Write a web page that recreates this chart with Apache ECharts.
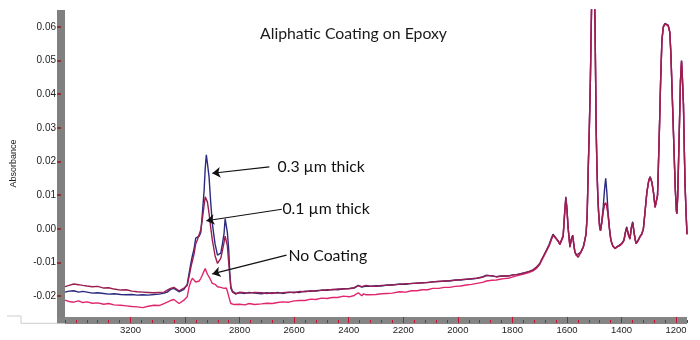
<!DOCTYPE html>
<html><head><meta charset="utf-8">
<script src="https://cdn.jsdelivr.net/npm/echarts@6/dist/echarts.min.js"></script>
<style>html,body{margin:0;padding:0;background:#fff}#chart{width:700px;height:340px}</style>
</head><body><div id="chart"></div>
<script>
const titleText = 'Aliphatic Coating on Epoxy';
const seriesNames = ['0.3 µm thick', '0.1 µm thick', 'No Coating'];

const wavenumber = [
  3440,3425,3408,3390,3375,3359,3340,3320,3298,3280,3260,3236,3215,3195,3175,3155,3135,3114,3095,3077,3065,3053,3041,3034,3022,3016,
  3004,2992,2985,2978,2973,2967,2961,2955,2948,2942,2937,2930,2926,2922,2918,2912,2906,2900,2890,2881,2875,2869,2863,2857,2853,2849,2845,2840,2836,2832,2826,2820,2814,
  2800,2780,2765,2745,2720,2700,2680,2660,2643,2620,
  2600,2580,2560,2540,2520,2500,2480,2460,2440,2420,
  2398,2380,2365,2359,2352,2345,2336,2324,2300,2280,
  2260,2240,2214,2190,2170,2150,2130,2110,2092,2070,
  2050,2030,2010,1990,1969,1950,1930,1910,1895,1889,
  1875,1859,1846,1830,1810,1798,1785,1770,1755,1740,
  1724,1710,1700,
  1693,1685,1675,1665,1657,1651,1644,1638,1632,1626,
  1620,1614,1608,1604,1600,1596,1589,1584,1579,1575,
  1571,1565,1559,1550,1540,1535,1530,1526,1522,1518,
  1514,1511,1508,1500,1497,1495,1493,1490,1487,1484,
  1480,1477,1472,1467,1462,1458,1454,1449,1444,1439,
  1432,1424,1415,1406,1398,1391,1386,1381,1375,1369,
  1364,1359,1353,1347,1340,1332,1326,1320,1314,1307,
  1300,1295,1289,1283,1277,1272,1268,1265,1261,1257,
  1252,1247,1241,1235,1229,1223,1219,1215,1211,1207,
  1203,1199,1197,1194,1191,1188,1184,1180,1177,1173,
  1170,1167,1163,1160
];

const thick03 = [
  -0.0188,-0.0185,-0.0184,-0.0188,-0.0186,-0.0188,-0.0191,-0.0190,-0.0192,-0.0194,-0.0193,-0.0195,-0.0196,-0.0195,-0.0197,-0.0196,-0.0197,-0.0195,-0.0194,-0.0191,-0.0188,-0.0180,-0.0177,-0.0180,-0.0187,-0.0188,
  -0.0180,-0.0165,-0.0132,-0.0100,-0.0080,-0.0060,-0.0028,-0.0024,-0.0022,-0.0010,0.0040,0.0115,0.0180,0.0220,0.0195,0.0155,0.0080,0.0016,-0.0045,-0.0078,-0.0077,-0.0072,-0.0045,-0.0014,0.0030,0.0035,-0.0010,-0.0060,-0.0130,-0.0172,-0.0186,-0.0190,-0.0192,
  -0.0190,-0.0192,-0.0189,-0.0191,-0.0193,-0.0190,-0.0192,-0.0189,-0.0192,-0.0189,
  -0.0188,-0.0189,-0.0185,-0.0186,-0.0184,-0.0182,-0.0183,-0.0180,-0.0181,-0.0178,
  -0.0177,-0.0176,-0.0168,-0.0165,-0.0173,-0.0168,-0.0170,-0.0171,-0.0169,-0.0170,
  -0.0167,-0.0167,-0.0164,-0.0165,-0.0162,-0.0162,-0.0160,-0.0160,-0.0157,-0.0157,
  -0.0155,-0.0155,-0.0152,-0.0152,-0.0150,-0.0149,-0.0147,-0.0143,-0.0138,-0.0136,
  -0.0140,-0.0142,-0.0141,-0.0140,-0.0139,-0.0137,-0.0136,-0.0133,-0.0130,-0.0127,
  -0.0122,-0.0113,-0.0104,
  -0.0092,-0.0080,-0.0063,-0.0046,-0.0028,-0.0016,-0.0019,-0.0030,-0.0036,-0.0045,
  -0.0050,-0.0020,0.0056,0.0095,0.0060,0.0006,-0.0053,-0.0030,-0.0019,-0.0045,
  -0.0068,-0.0078,-0.0083,-0.0070,-0.0053,-0.0035,-0.0014,0.0040,0.0180,0.0300,
  0.0450,0.0600,0.0750,0.0750,0.0600,0.0450,0.0300,0.0180,0.0100,0.0050,
  0.0005,-0.0004,0.0025,0.0065,0.0120,0.0150,0.0110,0.0046,0.0000,-0.0033,
  -0.0050,-0.0058,-0.0052,-0.0048,-0.0042,-0.0033,-0.0010,0.0006,-0.0015,-0.0028,
  0.0005,0.0021,-0.0015,-0.0043,-0.0035,-0.0022,-0.0015,0.0000,0.0050,0.0110,
  0.0145,0.0155,0.0140,0.0110,0.0065,0.0068,0.0100,0.0184,0.0300,0.0430,
  0.0560,0.0600,0.0610,0.0612,0.0605,0.0585,0.0520,0.0420,0.0320,0.0220,
  0.0120,0.0055,0.0046,0.0100,0.0200,0.0300,0.0440,0.0500,0.0450,0.0370,
  0.0240,0.0130,0.0040,-0.0015
];

const thick01 = [
  -0.0172,-0.0168,-0.0164,-0.0166,-0.0168,-0.0170,-0.0172,-0.0171,-0.0176,-0.0175,-0.0179,-0.0182,-0.0181,-0.0185,-0.0187,-0.0188,-0.0189,-0.0190,-0.0189,-0.0188,-0.0182,-0.0177,-0.0174,-0.0176,-0.0184,-0.0183,
  -0.0176,-0.0168,-0.0141,-0.0112,-0.0095,-0.0075,-0.0045,-0.0033,-0.0028,-0.0002,0.0026,0.0070,0.0095,0.0100,0.0080,0.0046,0.0005,-0.0033,-0.0080,-0.0103,-0.0100,-0.0088,-0.0065,-0.0040,-0.0022,-0.0020,-0.0050,-0.0100,-0.0140,-0.0177,-0.0188,-0.0191,-0.0194,
  -0.0188,-0.0190,-0.0191,-0.0189,-0.0190,-0.0192,-0.0190,-0.0191,-0.0190,-0.0188,
  -0.0190,-0.0186,-0.0187,-0.0184,-0.0185,-0.0183,-0.0181,-0.0181,-0.0179,-0.0179,
  -0.0178,-0.0175,-0.0169,-0.0166,-0.0172,-0.0169,-0.0168,-0.0170,-0.0171,-0.0168,
  -0.0168,-0.0166,-0.0165,-0.0163,-0.0163,-0.0161,-0.0161,-0.0159,-0.0158,-0.0156,
  -0.0156,-0.0154,-0.0153,-0.0151,-0.0150,-0.0148,-0.0147,-0.0144,-0.0139,-0.0137,
  -0.0139,-0.0143,-0.0141,-0.0140,-0.0140,-0.0137,-0.0136,-0.0134,-0.0131,-0.0127,
  -0.0122,-0.0113,-0.0104,
  -0.0092,-0.0079,-0.0064,-0.0048,-0.0030,-0.0018,-0.0020,-0.0030,-0.0037,-0.0046,
  -0.0051,-0.0022,0.0052,0.0092,0.0058,0.0004,-0.0054,-0.0031,-0.0020,-0.0046,
  -0.0069,-0.0079,-0.0085,-0.0071,-0.0054,-0.0036,-0.0015,0.0039,0.0179,0.0299,
  0.0449,0.0600,0.0750,0.0750,0.0600,0.0450,0.0298,0.0178,0.0098,0.0048,
  0.0004,-0.0005,0.0020,0.0055,0.0075,0.0080,0.0070,0.0040,-0.0002,-0.0034,
  -0.0051,-0.0059,-0.0053,-0.0049,-0.0043,-0.0034,-0.0012,0.0003,-0.0017,-0.0030,
  0.0002,0.0018,-0.0017,-0.0044,-0.0036,-0.0023,-0.0016,-0.0001,0.0049,0.0109,
  0.0144,0.0154,0.0139,0.0109,0.0064,0.0067,0.0099,0.0183,0.0299,0.0429,
  0.0559,0.0599,0.0609,0.0611,0.0604,0.0584,0.0519,0.0419,0.0319,0.0219,
  0.0119,0.0054,0.0045,0.0099,0.0199,0.0299,0.0439,0.0499,0.0449,0.0369,
  0.0239,0.0129,0.0039,-0.0016
];

const noCoating = [
  -0.0212,-0.0216,-0.0218,-0.0214,-0.0219,-0.0217,-0.0221,-0.0220,-0.0224,-0.0222,-0.0226,-0.0227,-0.0229,-0.0231,-0.0232,-0.0234,-0.0230,-0.0227,-0.0228,-0.0222,-0.0218,-0.0213,-0.0210,-0.0212,-0.0222,-0.0221,
  -0.0212,-0.0202,-0.0172,-0.0155,-0.0147,-0.0150,-0.0158,-0.0162,-0.0155,-0.0147,-0.0138,-0.0125,-0.0118,-0.0120,-0.0135,-0.0143,-0.0152,-0.0162,-0.0165,-0.0172,-0.0170,-0.0174,-0.0176,-0.0177,-0.0175,-0.0176,-0.0185,-0.0200,-0.0212,-0.0222,-0.0226,-0.0225,-0.0227,
  -0.0224,-0.0226,-0.0222,-0.0225,-0.0223,-0.0221,-0.0222,-0.0219,-0.0217,-0.0218,
  -0.0214,-0.0213,-0.0213,-0.0209,-0.0210,-0.0206,-0.0207,-0.0204,-0.0204,-0.0200,
  -0.0202,-0.0198,-0.0190,-0.0187,-0.0199,-0.0193,-0.0196,-0.0196,-0.0195,-0.0193,
  -0.0192,-0.0191,-0.0187,-0.0188,-0.0184,-0.0184,-0.0181,-0.0181,-0.0177,-0.0177,
  -0.0174,-0.0174,-0.0171,-0.0170,-0.0167,-0.0165,-0.0162,-0.0159,-0.0155,-0.0154,
  -0.0153,-0.0152,-0.0150,-0.0148,-0.0146,-0.0143,-0.0140,-0.0137,-0.0134,-0.0130,
  -0.0125,-0.0116,-0.0106,
  -0.0095,-0.0082,-0.0066,-0.0050,-0.0032,-0.0019,-0.0022,-0.0032,-0.0038,-0.0047,
  -0.0052,-0.0024,0.0050,0.0090,0.0056,0.0003,-0.0055,-0.0032,-0.0021,-0.0047,
  -0.0070,-0.0080,-0.0084,-0.0072,-0.0055,-0.0037,-0.0016,0.0038,0.0178,0.0298,
  0.0448,0.0600,0.0750,0.0750,0.0600,0.0450,0.0297,0.0177,0.0097,0.0047,
  0.0003,-0.0006,0.0018,0.0052,0.0072,0.0078,0.0068,0.0038,-0.0003,-0.0035,
  -0.0052,-0.0058,-0.0054,-0.0050,-0.0044,-0.0035,-0.0013,0.0002,-0.0018,-0.0031,
  0.0001,0.0017,-0.0018,-0.0045,-0.0037,-0.0024,-0.0017,-0.0002,0.0048,0.0108,
  0.0143,0.0153,0.0138,0.0108,0.0063,0.0066,0.0098,0.0182,0.0298,0.0428,
  0.0558,0.0598,0.0608,0.0610,0.0603,0.0583,0.0518,0.0418,0.0318,0.0218,
  0.0118,0.0053,0.0044,0.0098,0.0198,0.0298,0.0438,0.0498,0.0448,0.0368,
  0.0238,0.0128,0.0038,-0.0017
];

const xTickLabels = [3200,3000,2800,2600,2400,2200,2000,1800,1600,1400,1200];
const yTickValues = [-0.02,-0.01,0,0.01,0.02,0.03,0.04,0.05,0.06];

// annotations (data coordinates: wavenumber, absorbance)
const annotationText = ['0.3 µm thick', '0.1 µm thick', 'No Coating'];
const annotationPos = [[2661, 0.0183], [2643, 0.0059], [2621, -0.0081]];
const arrowStart = [[2691, 0.0184], [2645, 0.0058], [2628, -0.0078]];
const arrowEnd = [[2900, 0.0165], [2922, 0.0024], [2900, -0.0134]];

const chart = echarts.init(document.getElementById('chart'), null, {renderer: 'canvas'});
const zip = vals => wavenumber.map((w, i) => [w, vals[i]]);
const lineSeries = (name, vals, color, extra) => Object.assign({
  name: name, type: 'line', data: zip(vals), showSymbol: false, symbol: 'none',
  lineStyle: {color: color, width: 1.4}, itemStyle: {color: color}, silent: true
}, extra || {});

chart.setOption({
  animation: false,
  title: {text: titleText, left: 260, top: 26, padding: 0,
    textStyle: {fontFamily: 'Lato', fontSize: 15.8, fontWeight: 'normal', color: '#1a1a1a'}},
  grid: {left: 65, right: 13, top: 10, bottom: 23},
  xAxis: [
    {type: 'value', inverse: true, min: 1160, max: 3440, interval: 40, offset: 3,
      axisLine: {show: true, onZero: false, lineStyle: {color: '#858585', width: 7, cap: 'butt'}},
      axisTick: {show: true, length: 3, lineStyle: {color: '#c8102e', width: 1}},
      axisLabel: {customValues: xTickLabels, formatter: v => String(v), margin: 5,
        fontFamily: 'Liberation Sans', fontSize: 9.5, color: '#222'},
      splitLine: {show: false}},
    {type: 'value', inverse: true, min: 1160, max: 3440, position: 'bottom', offset: 0,
      axisLine: {show: false, onZero: false},
      axisTick: {show: true, customValues: xTickLabels, length: 6, lineStyle: {color: '#c8102e', width: 1}},
      axisLabel: {show: false}, splitLine: {show: false}}
  ],
  yAxis: {type: 'value', min: -0.0262, max: 0.065, offset: 4,
    name: 'Absorbance', nameLocation: 'middle', nameGap: 43, nameRotate: 90,
    nameTextStyle: {fontFamily: 'Liberation Sans', fontSize: 9, color: '#222'},
    axisLine: {show: true, onZero: false, lineStyle: {color: '#808080', width: 8, cap: 'butt'}},
    axisTick: {show: true, customValues: yTickValues, length: 4, lineStyle: {color: '#8b1a1a', width: 1.5}},
    axisLabel: {customValues: yTickValues, formatter: v => v.toFixed(2), margin: 5,
      fontFamily: 'Liberation Sans', fontSize: 10, color: '#222'},
    splitLine: {show: false}},
  graphic: [
    {type: 'rect', shape: {x: 57, y: 316.5, width: 8, height: 7}, style: {fill: '#838383'}},
    {type: 'polyline', shape: {points: [[7, 316], [21, 316], [21, 323.3], [57, 323.3]]},
      style: {stroke: '#cccccc', lineWidth: 1, fill: null}}
  ],
  series: [
    lineSeries(seriesNames[0], thick03, '#2b2a80'),
    lineSeries(seriesNames[2], noCoating, '#e0266c'),
    lineSeries(seriesNames[1], thick01, '#9a1f50', {
      markLine: {silent: true, symbol: ['none', 'arrow'], symbolSize: 8, precision: 5,
        label: {show: false}, emphasis: {disabled: true},
        lineStyle: {color: '#111', width: 1.2, type: 'solid'},
        data: arrowStart.map((s, i) => [{coord: s}, {coord: arrowEnd[i]}])},
      markPoint: {silent: true, symbol: 'circle', symbolSize: 0,
        itemStyle: {color: 'transparent'},
        label: {show: true, position: 'right', distance: 0, formatter: p => p.name,
          fontFamily: 'Lato', fontSize: 15.8, color: '#111'},
        data: annotationText.map((t, i) => ({name: t, coord: annotationPos[i]}))}
    })
  ]
});
</script>
</body></html>
